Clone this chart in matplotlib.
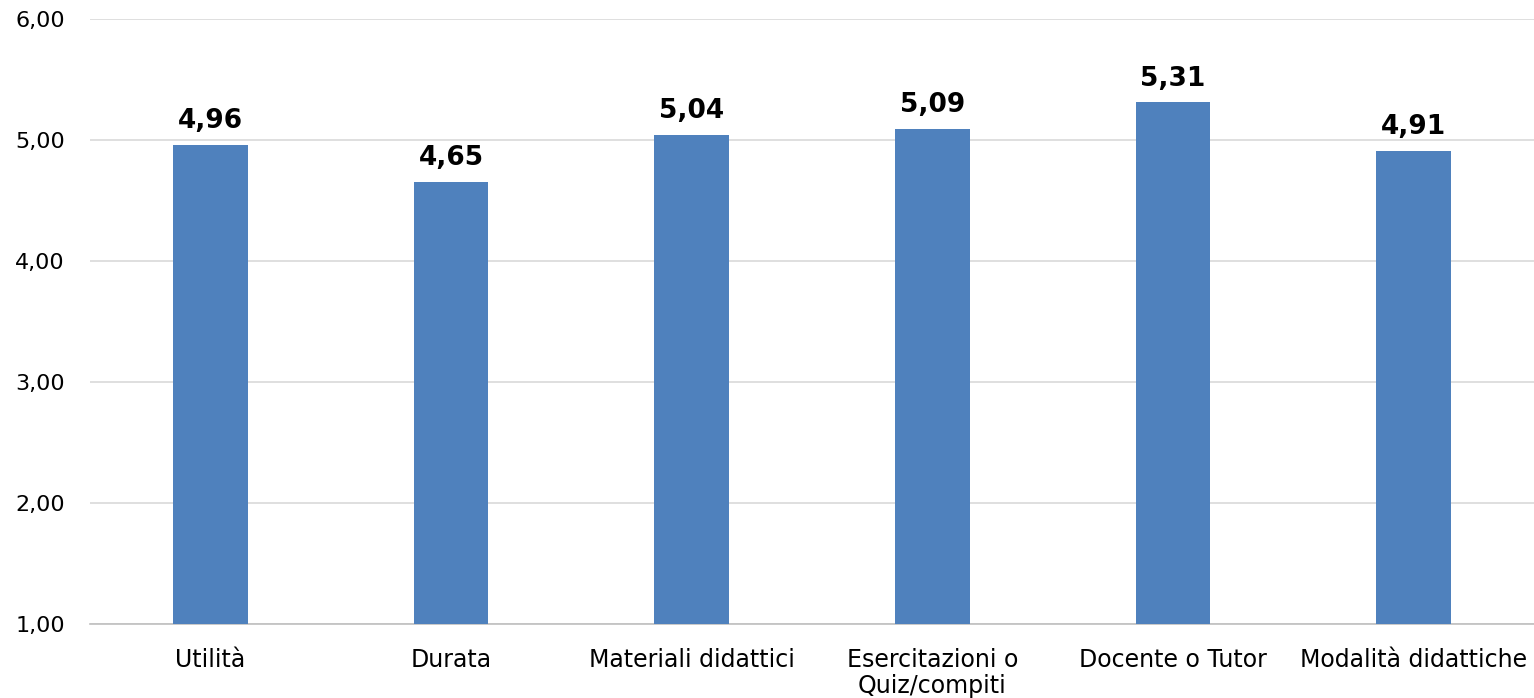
import matplotlib
matplotlib.use("Agg")
from matplotlib import pyplot as plt

categories = ["Utilità", "Durata", "Materiali didattici", "Esercitazioni o\nQuiz/compiti",
              "Docente o Tutor", "Modalità didattiche"]
values = [4.96, 4.65, 5.04, 5.09, 5.31, 4.91]
y_ticks = [1, 2, 3, 4, 5, 6]

fig = plt.figure(figsize=(15.34, 6.98), dpi=100)
ax = fig.add_axes([0.0587, 0.106, 0.9413, 0.8668])

x = list(range(len(categories)))
ax.bar(x, [v - 1 for v in values], bottom=1, width=0.31, color="#4F81BD", zorder=3)
for xi, v in zip(x, values):
    ax.text(xi, v + 0.09, f"{v:.2f}".replace(".", ","), ha="center", va="bottom",
            fontsize=19, fontweight="bold", color="black")

ax.set_xlim(-0.5, len(categories) - 0.5)
ax.set_ylim(1, 6)
ax.set_yticks(y_ticks)
ax.set_yticklabels([f"{t:.2f}".replace(".", ",") for t in y_ticks], fontsize=16)
ax.set_xticks(x)
ax.set_xticklabels(categories, fontsize=17, linespacing=1.15)
ax.tick_params(axis="both", length=0, colors="black")
ax.tick_params(axis="y", pad=18)
ax.tick_params(axis="x", pad=17)
ax.grid(axis="y", color="#D9D9D9", linewidth=1.2, zorder=0)
for side in ["top", "right", "left"]:
    ax.spines[side].set_visible(False)
ax.spines["bottom"].set_color("#BFBFBF")
ax.spines["bottom"].set_linewidth(1.2)

fig.savefig("out.png", dpi=100)
